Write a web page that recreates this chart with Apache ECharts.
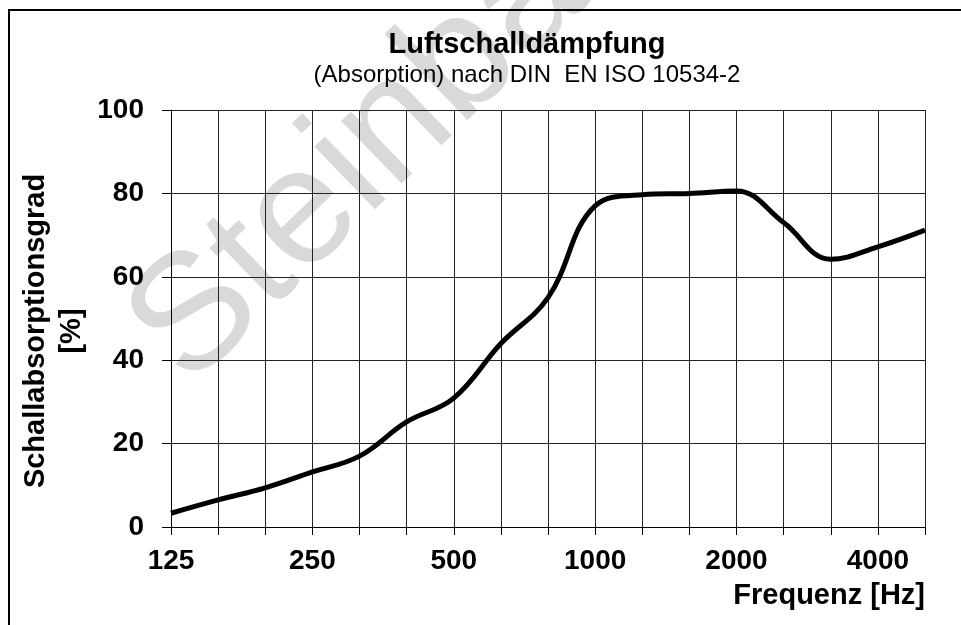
<!DOCTYPE html>
<html>
<head>
<meta charset="utf-8">
<script src="https://cdn.jsdelivr.net/npm/echarts@6/dist/echarts.min.js"></script>
<style>
  html, body { margin: 0; padding: 0; background: #fff; }
  #container { width: 961px; height: 625px; }
</style>
</head>
<body>
<div id="container"></div>
<script>
// third-octave bands, Hz
var frequencies = ['125', '160', '200', '250', '315', '400', '500', '630', '800', '1000',
                   '1250', '1600', '2000', '2500', '3150', '4000', '5000'];
// absorption coefficient in %
var absorption = [3.3, 6.5, 9.4, 13.2, 17, 25.2, 30.9, 44, 55, 77,
                  79.7, 80, 80.6, 73, 64.2, 67.2, 71.2];
var yTicks = [0, 20, 40, 60, 80, 100];

var font = 'Liberation Sans, Arial, sans-serif';

var dom = document.getElementById('container');
var myChart = echarts.init(dom, null, { renderer: 'canvas' });

var option = {
    animation: false,
    backgroundColor: '#fff',
    grid: {
        left: 171,
        right: 36,
        top: 110,
        bottom: 98
    },
    graphic: [
        {
            // watermark
            type: 'text',
            z: -10,
            x: 100,
            y: 297,
            rotation: 44 * Math.PI / 180,
            style: {
                text: 'Steinbach',
                font: '165px ' + font,
                fill: '#d9d9d9',
                align: 'left',
                verticalAlign: 'top'
            }
        },
        {
            // outer frame, cut off by the window on the right and bottom
            type: 'rect',
            z: 10,
            shape: { x: 9, y: 10, width: 1000, height: 700 },
            style: { fill: null, stroke: '#000', lineWidth: 2 }
        },
        {
            type: 'text',
            z: 10,
            x: 527,
            y: 45,
            style: {
                text: 'Luftschalldämpfung',
                font: 'bold 29px ' + font,
                fill: '#000',
                align: 'center',
                verticalAlign: 'middle'
            }
        },
        {
            type: 'text',
            z: 10,
            x: 527,
            y: 75,
            style: {
                text: '(Absorption) nach DIN  EN ISO 10534-2',
                font: '24px ' + font,
                fill: '#000',
                align: 'center',
                verticalAlign: 'middle'
            }
        },
        {
            type: 'text',
            z: 10,
            x: 54,
            y: 331,
            rotation: Math.PI / 2,
            style: {
                text: 'Schallabsorptionsgrad\n[%]',
                font: 'bold 29px ' + font,
                lineHeight: 36,
                fill: '#000',
                align: 'center',
                verticalAlign: 'middle'
            }
        },
        {
            type: 'text',
            z: 10,
            x: 925,
            y: 596,
            style: {
                text: 'Frequenz [Hz]',
                font: 'bold 29px ' + font,
                fill: '#000',
                align: 'right',
                verticalAlign: 'middle'
            }
        }
    ],
    xAxis: {
        type: 'category',
        data: frequencies,
        boundaryGap: false,
        axisLine: { show: true, lineStyle: { color: '#000', width: 1 } },
        axisTick: {
            show: true,
            interval: 0,
            length: 8,
            lineStyle: { color: '#000', width: 1 }
        },
        axisLabel: {
            interval: 2,
            margin: 20,
            color: '#000',
            fontFamily: font,
            fontWeight: 'bold',
            fontSize: 28
        },
        splitLine: {
            show: true,
            interval: 0,
            lineStyle: { color: '#222', width: 1 }
        }
    },
    yAxis: {
        type: 'value',
        min: yTicks[0],
        max: yTicks[yTicks.length - 1],
        interval: 20,
        axisLine: { show: true, lineStyle: { color: '#000', width: 1 } },
        axisTick: {
            show: true,
            length: 9,
            lineStyle: { color: '#000', width: 1 }
        },
        axisLabel: {
            margin: 27,
            color: '#000',
            fontFamily: font,
            fontWeight: 'bold',
            fontSize: 28
        },
        splitLine: {
            show: true,
            lineStyle: { color: '#222', width: 1 }
        }
    },
    series: [
        {
            type: 'line',
            data: absorption,
            smooth: 0.4,
            symbol: 'none',
            lineStyle: { color: '#000', width: 5 },
            z: 5
        }
    ]
};

myChart.setOption(option);
</script>
</body>
</html>
